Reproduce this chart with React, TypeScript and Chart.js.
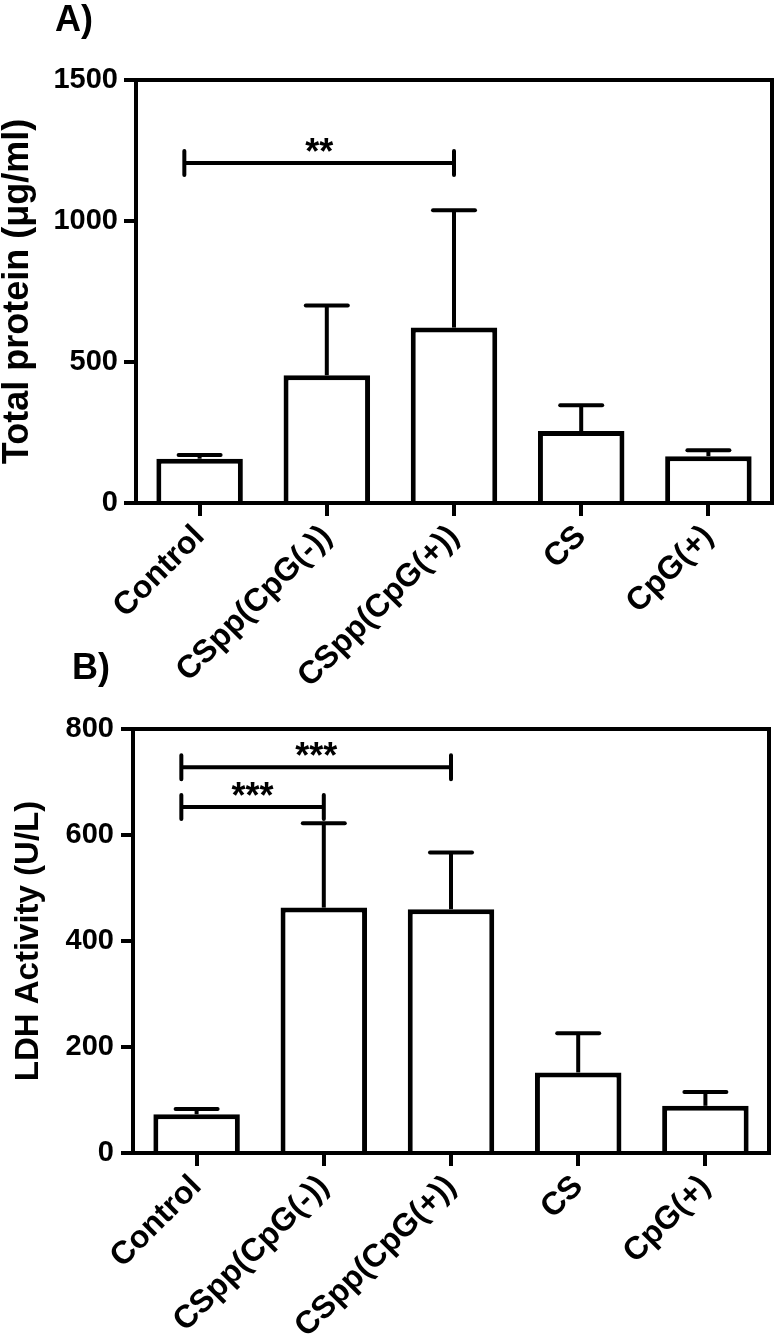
import React, { useEffect, useRef } from 'react';
import { Chart, registerables } from 'chart.js';

Chart.register(...registerables);

// ---------- data ----------
const categories = ['Control', 'CSpp(CpG(-))', 'CSpp(CpG(+))', 'CS', 'CpG(+)'];

const proteinMeans = [157, 453, 622, 255, 166];
const proteinUpper = [170, 700, 1038, 347, 187];
const proteinTicks = [0, 500, 1000, 1500];
const proteinBrackets = [{ from: -0.12, to: 2, y: 1206, label: '**' }];

const ldhMeans = [73, 463, 460, 152, 89];
const ldhUpper = [83, 622, 567, 226, 115];
const ldhTicks = [0, 200, 400, 600, 800];
const ldhBrackets = [
  { from: -0.12, to: 2, y: 728, label: '***' },
  { from: -0.12, to: 1, y: 653, label: '***' },
];

const FAMILY = '"Liberation Sans", Arial, Helvetica, sans-serif';

type Bracket = { from: number; to: number; y: number; label: string };

type PanelProps = {
  top: number;
  height: number;
  letter: string;
  letterX: number;
  letterY: number;
  yTitle: string;
  titleSize: number;
  titlePad: number;
  means: number[];
  upper: number[];
  ticks: number[];
  brackets: Bracket[];
  axisWidth: number;
  padTop: number;
  padRight: number;
  xAxisHeight: number;
  tickPad: number;
};

function makeDecor(p: PanelProps) {
  return {
    id: 'decor',
    afterDatasetsDraw(chart: any) {
      const { ctx, chartArea: a, scales } = chart;
      const x = scales.x;
      const y = scales.y;
      ctx.save();
      ctx.strokeStyle = '#000';
      ctx.fillStyle = '#000';
      ctx.lineWidth = 4;
      ctx.lineCap = 'square';
      // frame: top and right
      ctx.beginPath();
      ctx.moveTo(a.left, a.top);
      ctx.lineTo(a.right, a.top);
      ctx.lineTo(a.right, a.bottom);
      ctx.stroke();
      // error bars (upper only)
      p.means.forEach((m, i) => {
        const cx = x.getPixelForValue(i);
        const y0 = y.getPixelForValue(m);
        const y1 = y.getPixelForValue(p.upper[i]);
        ctx.lineCap = 'butt';
        ctx.beginPath();
        ctx.moveTo(cx, y0);
        ctx.lineTo(cx, y1);
        ctx.stroke();
        ctx.lineCap = 'round';
        ctx.beginPath();
        ctx.moveTo(cx - 21, y1);
        ctx.lineTo(cx + 21, y1);
        ctx.stroke();
      });
      // significance brackets
      ctx.lineCap = 'round';
      ctx.font = `bold 36px ${FAMILY}`;
      ctx.textAlign = 'center';
      ctx.textBaseline = 'alphabetic';
      p.brackets.forEach((b) => {
        const x1 = x.getPixelForValue(b.from);
        const x2 = x.getPixelForValue(b.to);
        const yy = y.getPixelForValue(b.y);
        ctx.beginPath();
        ctx.moveTo(x1, yy);
        ctx.lineTo(x2, yy);
        ctx.moveTo(x1, yy - 12);
        ctx.lineTo(x1, yy + 12);
        ctx.moveTo(x2, yy - 12);
        ctx.lineTo(x2, yy + 12);
        ctx.stroke();
        ctx.fillText(b.label, (x1 + x2) / 2, yy + 1);
      });
      // panel letter
      ctx.textAlign = 'left';
      ctx.font = `bold 36px ${FAMILY}`;
      ctx.fillText(p.letter, p.letterX, p.letterY);
      ctx.restore();
    },
  };
}

function Panel(p: PanelProps) {
  const ref = useRef<HTMLCanvasElement | null>(null);
  useEffect(() => {
    if (!ref.current) return;
    const xFont = { family: FAMILY, size: 32, weight: 'bold' as const };
    const yFont = { family: FAMILY, size: 29, weight: 'bold' as const };
    const chart = new Chart(ref.current, {
      type: 'bar',
      data: {
        labels: categories,
        datasets: [
          {
            data: p.means,
            backgroundColor: '#ffffff',
            borderColor: '#000000',
            borderWidth: 5,
            barPercentage: 0.68,
            categoryPercentage: 1,
          },
        ],
      },
      options: {
        responsive: false,
        animation: false,
        devicePixelRatio: 1,
        layout: { padding: { top: p.padTop, right: p.padRight, left: 0, bottom: 0 } },
        plugins: { legend: { display: false }, tooltip: { enabled: false }, title: { display: false } },
        scales: {
          x: {
            type: 'category',
            offset: true,
            grid: {
              display: true,
              drawOnChartArea: false,
              drawTicks: true,
              tickLength: 13,
              tickWidth: 4,
              tickColor: '#000',
              offset: false,
              lineWidth: 4,
              color: '#000',
            },
            border: { display: true, width: 4, color: '#000' },
            ticks: {
              autoSkip: false,
              maxRotation: 45,
              minRotation: 45,
              padding: 2,
              color: '#000',
              font: xFont,
            },
            afterFit: (s: any) => {
              s.height = p.xAxisHeight;
            },
          },
          y: {
            type: 'linear',
            min: p.ticks[0],
            max: p.ticks[p.ticks.length - 1],
            afterBuildTicks: (s: any) => {
              s.ticks = p.ticks.map((v) => ({ value: v }));
            },
            grid: {
              display: true,
              drawOnChartArea: false,
              drawTicks: true,
              tickLength: 12,
              tickWidth: 4,
              tickColor: '#000',
              lineWidth: 4,
              color: '#000',
            },
            border: { display: true, width: 4, color: '#000' },
            ticks: {
              padding: p.tickPad,
              color: '#000',
              font: yFont,
              callback: (v: any) => String(v),
            },
            title: {
              display: true,
              text: p.yTitle,
              color: '#000',
              font: { family: FAMILY, size: p.titleSize, weight: 'bold' },
              padding: { top: p.titlePad, bottom: 0 },
            },
            afterFit: (s: any) => {
              s.width = p.axisWidth;
            },
          },
        },
      },
      plugins: [makeDecor(p)],
    } as any);
    return () => chart.destroy();
  }, []);
  return (
    <div style={{ position: 'absolute', left: 0, top: p.top, width: 775, height: p.height }}>
      <canvas ref={ref} width={775} height={p.height} style={{ display: 'block' }} />
    </div>
  );
}

export default function App() {
  return (
    <div
      style={{
        position: 'absolute',
        left: 0,
        top: 0,
        width: 775,
        height: 1344,
        background: '#fff',
        overflow: 'hidden',
      }}
    >
      <Panel
        top={0}
        height={720}
        letter="A)"
        letterX={55}
        letterY={31}
        yTitle="Total protein (μg/ml)"
        titleSize={36}
        titlePad={-4}
        means={proteinMeans}
        upper={proteinUpper}
        ticks={proteinTicks}
        brackets={proteinBrackets}
        axisWidth={136}
        padTop={80}
        padRight={3}
        xAxisHeight={217}
        tickPad={6}
      />
      <Panel
        top={650}
        height={694}
        letter="B)"
        letterX={72}
        letterY={29}
        yTitle="LDH Activity (U/L)"
        titleSize={33}
        titlePad={9}
        means={ldhMeans}
        upper={ldhUpper}
        ticks={ldhTicks}
        brackets={ldhBrackets}
        axisWidth={133}
        padTop={79}
        padRight={6}
        xAxisHeight={191}
        tickPad={7}
      />
    </div>
  );
}
